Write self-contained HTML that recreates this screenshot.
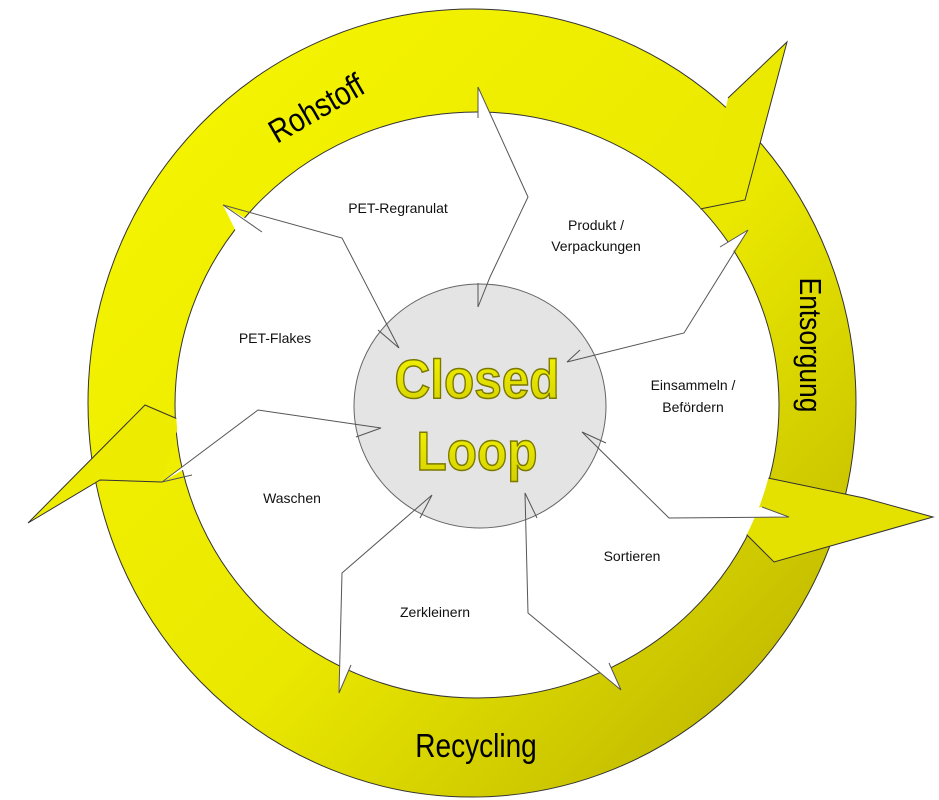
<!DOCTYPE html>
<html><head><meta charset="utf-8"><style>
html,body{margin:0;padding:0;background:#fff;}
svg{display:block;}
text{font-family:"Liberation Sans",sans-serif;}
</style></head><body>
<svg width="939" height="800" viewBox="0 0 939 800" xmlns="http://www.w3.org/2000/svg">
<defs>
<linearGradient id="ring" x1="0" y1="0" x2="1" y2="1">
<stop offset="0" stop-color="#f7f700"/>
<stop offset="0.55" stop-color="#eae800"/>
<stop offset="1" stop-color="#b4ac00"/>
</linearGradient>
<linearGradient id="txt" x1="0" y1="0" x2="0" y2="1">
<stop offset="0" stop-color="#f4f400"/>
<stop offset="1" stop-color="#d4d000"/>
</linearGradient>
</defs>
<!-- ring -->
<path fill-rule="evenodd" fill="url(#ring)" stroke="#333" stroke-width="1"
 d="M88,403 a384,394 0 1,0 768,0 a384,394 0 1,0 -768,0 Z M175,405 a302,293 0 1,0 604,0 a302,293 0 1,0 -604,0 Z"/>
<!-- arrowheads -->
<polygon points="728,98 787,42 745,200 700,209 712,170" fill="#ebe900"/>
<polyline points="728,98 787,42 745,200 700,209" fill="none" stroke="#333" stroke-width="1"/>
<polygon points="768,478 864,498 933,517 774,562 744,532 760,505" fill="#e4e000"/>
<polyline points="768,478 864,498 933,517 774,562 744,532" fill="none" stroke="#333" stroke-width="1"/>
<polygon points="145,405 180,420 162,482 100,480 28,523" fill="#eceb00"/>
<polyline points="180,420 145,405 28,523 100,480 162,482" fill="none" stroke="#333" stroke-width="1"/>
<!-- inner white -->
<ellipse cx="477" cy="405" rx="301" ry="292" fill="#fff"/>
<!-- white arrows overlapping ring -->
<polygon points="478,87 528,197 490,277 478,307 478,118" fill="#fff"/>
<polygon points="748,230 720,247 700,300" fill="#fff"/>
<polygon points="223,205 268,232 250,260" fill="#fff"/>
<polygon points="162,482 258,410 200,460" fill="#fff"/>
<polygon points="339,693 351,665 342,600" fill="#fff"/>
<polygon points="621,690 609,663 560,640" fill="#fff"/>
<polygon points="789,517 762,507 700,517" fill="#fff"/>
<!-- gray circle -->
<ellipse cx="480" cy="406" rx="126" ry="122" fill="#e4e4e4" stroke="#666" stroke-width="1"/>
<!-- arrow outlines -->
<g fill="none" stroke="#555" stroke-width="1">
<polyline points="478,118 478,87 528,197 490,277 478,307 478,283"/>
<polyline points="720,247 748,230 684,333 567,362 580,350"/>
<polyline points="262,232 223,205 342,238 399,348 378,330"/>
<polyline points="192,475 162,482 258,410 381,428 356,437"/>
<polyline points="420,518 432,495 342,573 339,693 351,665"/>
<polyline points="537,518 525,493 528,613 621,690 609,663"/>
<polyline points="606,443 582,432 669,518 789,517 762,507"/>
</g>
<!-- ring labels -->
<text x="0" y="0" font-size="33" fill="#000" text-anchor="middle" transform="translate(322,118) rotate(-30) scale(0.85,1)">Rohstoff</text>
<text x="0" y="0" font-size="31" fill="#000" text-anchor="middle" transform="translate(800,345) rotate(90) scale(0.85,1)">Entsorgung</text>
<text x="0" y="0" font-size="33" fill="#000" text-anchor="middle" transform="translate(476,757) scale(0.85,1)">Recycling</text>
<!-- step labels -->
<g font-size="14" fill="#111" text-anchor="middle">
<text x="398" y="213">PET-Regranulat</text>
<text x="596" y="230">Produkt /</text>
<text x="596" y="251">Verpackungen</text>
<text x="275" y="343">PET-Flakes</text>
<text x="693" y="390">Einsammeln /</text>
<text x="693" y="412">Befördern</text>
<text x="292" y="503">Waschen</text>
<text x="632" y="561">Sortieren</text>
<text x="435" y="617">Zerkleinern</text>
</g>
<!-- Closed Loop -->
<g font-size="55" font-weight="bold" text-anchor="middle" fill="url(#txt)" stroke="#7a7800" stroke-width="1.5">
<text x="0" y="0" transform="translate(477,398) scale(0.9,1)">Closed</text>
<text x="0" y="0" transform="translate(477,470) scale(0.9,1)">Loop</text>
</g>
</svg>
</body></html>
